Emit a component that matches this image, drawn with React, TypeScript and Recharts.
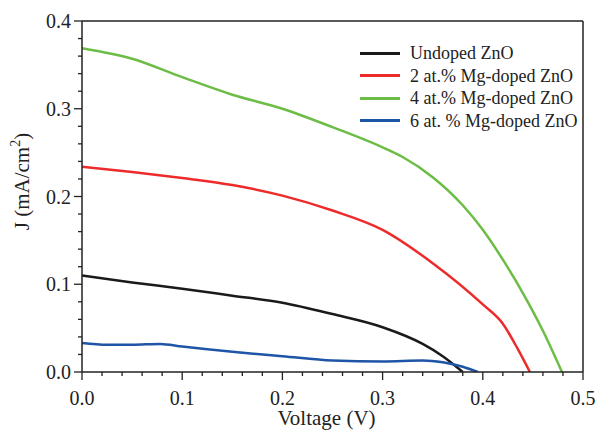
import { Line, LineChart, XAxis, YAxis, Label, ReferenceLine } from 'recharts'

interface JVPoint {
  v: number
  j: number
}

const undopedZnO: JVPoint[] = [
  { v: 0, j: 0.11 }, { v: 0.05, j: 0.102 }, { v: 0.1, j: 0.095 }, { v: 0.15, j: 0.087 },
  { v: 0.2, j: 0.079 }, { v: 0.25, j: 0.066 }, { v: 0.3, j: 0.051 },
  { v: 0.34, j: 0.032 }, { v: 0.36, j: 0.018 }, { v: 0.38, j: 0 },
]

const mg2ZnO: JVPoint[] = [
  { v: 0, j: 0.234 }, { v: 0.05, j: 0.228 }, { v: 0.1, j: 0.221 }, { v: 0.15, j: 0.213 },
  { v: 0.2, j: 0.201 }, { v: 0.25, j: 0.184 }, { v: 0.3, j: 0.162 }, { v: 0.35, j: 0.124 },
  { v: 0.4, j: 0.077 }, { v: 0.42, j: 0.055 }, { v: 0.435, j: 0.026 }, { v: 0.447, j: 0 },
]

const mg4ZnO: JVPoint[] = [
  { v: 0, j: 0.369 }, { v: 0.05, j: 0.357 }, { v: 0.1, j: 0.336 }, { v: 0.15, j: 0.316 },
  { v: 0.2, j: 0.3 }, { v: 0.25, j: 0.279 }, { v: 0.3, j: 0.256 }, { v: 0.32, j: 0.245 },
  { v: 0.35, j: 0.222 }, { v: 0.38, j: 0.19 }, { v: 0.4, j: 0.162 }, { v: 0.42, j: 0.128 },
  { v: 0.44, j: 0.09 }, { v: 0.46, j: 0.047 }, { v: 0.479, j: 0 },
]

const mg6ZnO: JVPoint[] = [
  { v: 0, j: 0.033 }, { v: 0.025, j: 0.031 }, { v: 0.05, j: 0.031 }, { v: 0.078, j: 0.032 },
  { v: 0.1, j: 0.029 }, { v: 0.15, j: 0.023 }, { v: 0.2, j: 0.018 }, { v: 0.25, j: 0.013 },
  { v: 0.3, j: 0.012 }, { v: 0.34, j: 0.013 }, { v: 0.36, j: 0.011 }, { v: 0.38, j: 0.006 },
  { v: 0.395, j: 0 },
]

const seriesNames = ['Undoped ZnO', '2 at.% Mg-doped ZnO', '4 at.% Mg-doped ZnO', '6 at. % Mg-doped ZnO']
const seriesColors = ['#1a1a1a', '#ee2b2b', '#6cbd45', '#1f55a6']
const seriesData = [undopedZnO, mg2ZnO, mg4ZnO, mg6ZnO]

// major + minor positions (minor every 0.02)
const xTicks = [0, 0.02, 0.04, 0.06, 0.08, 0.1, 0.12, 0.14, 0.16, 0.18, 0.2, 0.22, 0.24, 0.26, 0.28, 0.3, 0.32, 0.34, 0.36, 0.38, 0.4, 0.42, 0.44, 0.46, 0.48, 0.5]
const yTicks = [0, 0.02, 0.04, 0.06, 0.08, 0.1, 0.12, 0.14, 0.16, 0.18, 0.2, 0.22, 0.24, 0.26, 0.28, 0.3, 0.32, 0.34, 0.36, 0.38, 0.4]

const font = '"Liberation Serif", "Times New Roman", serif'
const ink = '#222'

const isMajor = (v: number) => Math.abs(v * 10 - Math.round(v * 10)) < 1e-6

function XTick(props: any) {
  const { x, y, payload } = props
  const major = isMajor(payload.value)
  return (
    <g>
      <line x1={x} y1={y} x2={x} y2={y + (major ? 8 : 4)} stroke={ink} strokeWidth={1.3} />
      {major && (
        <text x={x} y={y + 33} textAnchor="middle" fill={ink} fontSize={20} fontFamily={font}>
          {payload.value.toFixed(1)}
        </text>
      )}
    </g>
  )
}

function YTick(props: any) {
  const { x, y, payload } = props
  const major = isMajor(payload.value)
  return (
    <g>
      <line x1={x} y1={y} x2={x - (major ? 8 : 4)} y2={y} stroke={ink} strokeWidth={1.3} />
      {major && (
        <text x={x - 11} y={y + 7} textAnchor="end" fill={ink} fontSize={20} fontFamily={font}>
          {payload.value.toFixed(1)}
        </text>
      )}
    </g>
  )
}

function XTitle(props: any) {
  const vb = props.viewBox || { x: 0, y: 0, width: 0, height: 0 }
  return (
    <text x={vb.x + vb.width / 2 - 6} y={425} textAnchor="middle" fill={ink} fontSize={21} fontFamily={font}>
      Voltage (V)
    </text>
  )
}

function YTitle(props: any) {
  const vb = props.viewBox || { x: 0, y: 0, width: 0, height: 0 }
  const cx = 22
  const cy = vb.y + vb.height / 2 - 15
  return (
    <text
      x={cx}
      y={cy}
      transform={`rotate(-90 ${cx} ${cy})`}
      textAnchor="middle"
      dominantBaseline="central"
      fill={ink}
      fontSize={21}
      fontFamily={font}
    >
      J (mA/cm<tspan dy={-7} fontSize={14}>2</tspan><tspan dy={7}>)</tspan>
    </text>
  )
}

function LegendBox() {
  return (
    <div
      style={{
        position: 'absolute',
        left: 360,
        top: 42,
        fontFamily: font,
        fontSize: 18,
        color: ink,
        lineHeight: '22.5px',
      }}
    >
      {seriesNames.map((name, i) => (
        <div key={name} style={{ display: 'flex', alignItems: 'center', whiteSpace: 'nowrap' }}>
          <span style={{ display: 'inline-block', width: 40, height: 3, background: seriesColors[i], marginRight: 10 }} />
          <span>{name}</span>
        </div>
      ))}
    </div>
  )
}

export default function App() {
  return (
    <div style={{ position: 'absolute', left: 0, top: 0, width: 599, height: 430, background: '#fff' }}>
      <LineChart width={599} height={430} margin={{ top: 21, right: 16, bottom: 18, left: 22 }}>
        <XAxis
          type="number"
          dataKey="v"
          domain={[0, 0.5]}
          ticks={xTicks}
          interval={0}
          tick={<XTick />}
          tickSize={0}
          tickMargin={0}
          tickLine={false}
          axisLine={{ stroke: ink, strokeWidth: 1.5 }}
          height={40}
          allowDataOverflow
        >
          <Label content={<XTitle />} />
        </XAxis>
        <YAxis
          type="number"
          domain={[0, 0.4]}
          ticks={yTicks}
          interval={0}
          tick={<YTick />}
          tickSize={0}
          tickMargin={0}
          tickLine={false}
          axisLine={{ stroke: ink, strokeWidth: 1.5 }}
          width={60}
          allowDataOverflow
        >
          <Label content={<YTitle />} />
        </YAxis>
        <ReferenceLine y={0.4} stroke={ink} strokeWidth={1.5} />
        <ReferenceLine x={0.5} stroke={ink} strokeWidth={1.5} />
        {seriesData.map((data, i) => (
          <Line
            key={seriesNames[i]}
            data={data}
            dataKey="j"
            name={seriesNames[i]}
            type="monotone"
            stroke={seriesColors[i]}
            strokeWidth={2.5}
            dot={false}
            isAnimationActive={false}
          />
        ))}
      </LineChart>
      <LegendBox />
    </div>
  )
}
